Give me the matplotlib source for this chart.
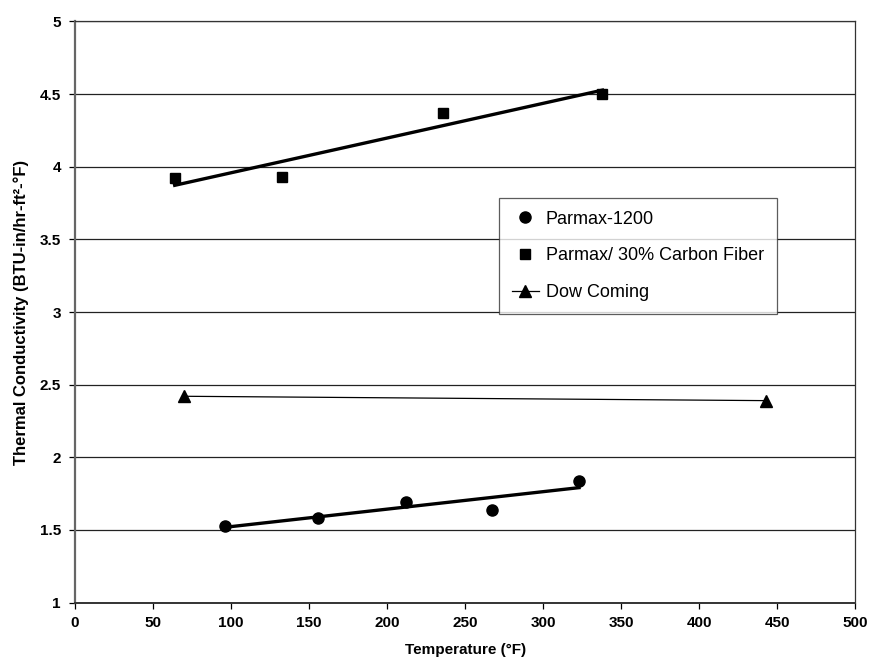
import numpy as np
import matplotlib
matplotlib.use("Agg")
import matplotlib.pyplot as plt
from matplotlib.lines import Line2D

plt.rcParams["font.family"] = ["Liberation Sans", "DejaVu Sans"]

# Parmax-1200
parmax_t = [96, 156, 212, 267, 323]
parmax_k = [1.53, 1.58, 1.69, 1.64, 1.84]

# Parmax / 30% carbon fiber
carbon_t = [64, 133, 236, 338]
carbon_k = [3.92, 3.93, 4.37, 4.50]

# Dow Corning
dow_t = [70, 443]
dow_k = [2.42, 2.39]

x_ticks = [0, 50, 100, 150, 200, 250, 300, 350, 400, 450, 500]
y_ticks = [1, 1.5, 2, 2.5, 3, 3.5, 4, 4.5, 5]

fig = plt.figure(figsize=(8.8, 6.71), dpi=100)
ax = fig.add_axes([0.085, 0.102, 0.887, 0.866])

ax.set_xlim(0, 500)
ax.set_ylim(1, 5)
ax.set_xticks(x_ticks)
ax.set_yticks(y_ticks)
ax.set_yticklabels([f"{v:g}" for v in y_ticks])
ax.grid(axis="y", color="#222222", linewidth=0.9)
ax.set_axisbelow(True)
for s in ax.spines.values():
    s.set_color("#333333")
    s.set_linewidth(0.9)
ax.spines["left"].set_color("#666666")
ax.spines["left"].set_linewidth(1.6)
ax.spines["bottom"].set_linewidth(1.4)
ax.tick_params(direction="out", length=4, width=0.9, labelsize=11, pad=6)
for lab in ax.get_xticklabels() + ax.get_yticklabels():
    lab.set_fontweight("bold")

# linear trend lines over each data range
for t, k in [(parmax_t, parmax_k), (carbon_t, carbon_k)]:
    p = np.polyfit(t, k, 1)
    xs = np.array([min(t), max(t)])
    ax.plot(xs, np.polyval(p, xs), color="black", linewidth=2.4, zorder=3)

ax.plot(parmax_t, parmax_k, "o", color="black", markersize=8, zorder=4)
ax.plot(carbon_t, carbon_k, "s", color="black", markersize=7, zorder=4)
ax.plot(dow_t, dow_k, "-^", color="black", linewidth=0.9, markersize=8, zorder=4)

ax.set_xlabel("Temperature (°F)", fontsize=11, fontweight="bold", labelpad=9)
ax.set_ylabel("Thermal Conductivity (BTU-in/hr-ft²-°F)", fontsize=12,
              fontweight="bold", labelpad=8)

handles = [
    Line2D([], [], marker="o", linestyle="none", color="black", markersize=8),
    Line2D([], [], marker="s", linestyle="none", color="black", markersize=7),
    Line2D([], [], marker="^", linestyle="-", color="black", linewidth=0.9, markersize=8),
]
labels = ["Parmax-1200", "Parmax/ 30% Carbon Fiber", "Dow Coming"]
leg = fig.legend(handles, labels, loc="upper left", bbox_to_anchor=(0.567, 0.705),
                 fontsize=13, frameon=True, fancybox=False, edgecolor="#333333",
                 handlelength=1.5, labelspacing=1.1, borderpad=0.7, handletextpad=0.4,
                 borderaxespad=0)
leg.get_frame().set_linewidth(0.9)

fig.savefig("out.png", dpi=100, facecolor="white")
